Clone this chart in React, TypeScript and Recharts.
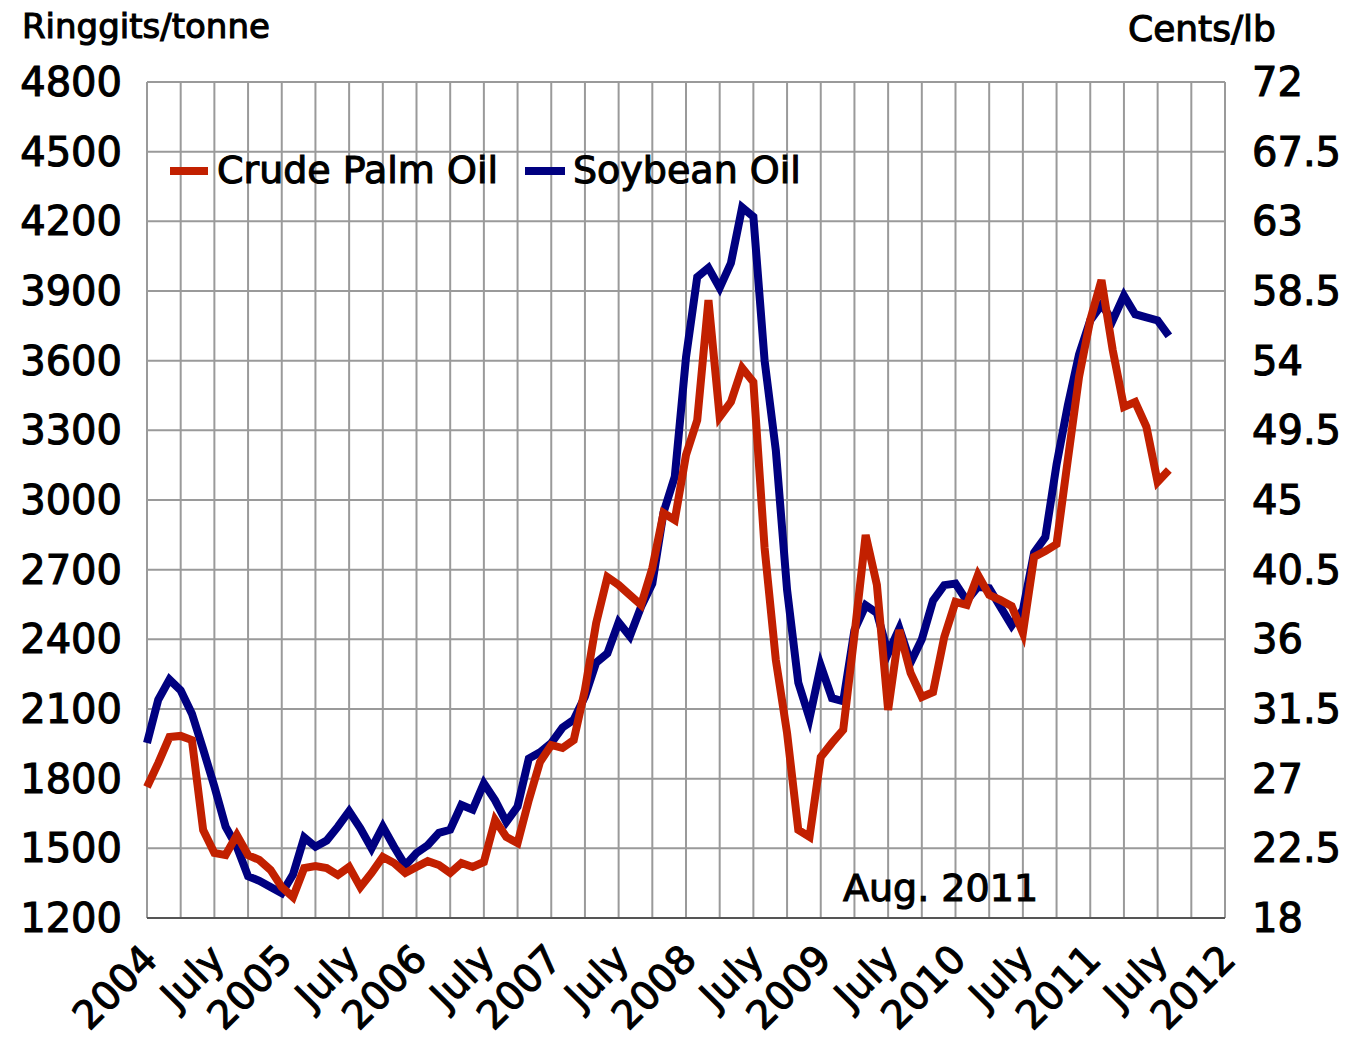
import { LineChart, Line, XAxis, YAxis, CartesianGrid } from "recharts";

// monthly averages, Jan 2004 .. Aug 2011
const palmOil = [
  1764, 1867, 1979, 1984, 1966, 1579, 1480, 1471, 1557, 1471, 1450, 1407,
  1333, 1290, 1415, 1424, 1415, 1385, 1420, 1333, 1394, 1463, 1437, 1394,
  1420, 1445, 1428, 1394, 1437, 1420, 1441, 1622, 1549, 1523, 1708, 1872,
  1945, 1932, 1966, 2182, 2470, 2668, 2634, 2591, 2548, 2707, 2944, 2914,
  3194, 3344, 3861, 3357, 3422, 3568, 3508, 2793, 2311, 1997, 1579, 1549,
  1893, 1954, 2010, 2419, 2849, 2634, 2096, 2440, 2255, 2152, 2173, 2410,
  2561, 2548, 2677, 2591, 2569, 2543, 2427, 2755, 2780, 2810, 3172, 3530,
  3775, 3947, 3646, 3401, 3422, 3315, 3078, 3129,
];

const soybeanOil = [
  29.3, 32.1, 33.4, 32.7, 31.2, 28.9, 26.5, 23.9, 22.6, 20.7, 20.4, 20.0,
  19.6, 20.8, 23.2, 22.6, 23.0, 23.9, 24.9, 23.8, 22.5, 23.9, 22.6, 21.4,
  22.2, 22.7, 23.5, 23.7, 25.3, 25.0, 26.7, 25.6, 24.2, 25.2, 28.3, 28.7,
  29.3, 30.3, 30.8, 32.3, 34.5, 35.1, 37.1, 36.2, 38.1, 39.6, 44.2, 46.5,
  54.2, 59.4, 60.0, 58.7, 60.3, 63.9, 63.3, 54.0, 48.2, 39.2, 33.2, 30.9,
  34.3, 32.2, 32.0, 36.6, 38.2, 37.7, 35.1, 36.7, 34.5, 36.0, 38.5, 39.5,
  39.6, 38.5, 39.4, 39.3, 38.1, 36.9, 37.9, 41.6, 42.6, 47.3, 51.1, 54.4,
  56.6, 57.6, 56.6, 58.2, 57.0, 56.8, 56.6, 55.6,
];

const xTickLabels = [
  "2004", "July", "2005", "July", "2006", "July", "2007", "July", "2008",
  "July", "2009", "July", "2010", "July", "2011", "July", "2012",
];

const leftTicks = [1200, 1500, 1800, 2100, 2400, 2700, 3000, 3300, 3600, 3900, 4200, 4500, 4800];
const rightTicks = [18, 22.5, 27, 31.5, 36, 40.5, 45, 49.5, 54, 58.5, 63, 67.5, 72];
const monthTicks = Array.from({ length: 33 }, (_, i) => i * 3);

const data = palmOil.map((v, i) => ({ month: i, palm: v, soy: soybeanOil[i] }));

const FONT = '"DejaVu Sans", sans-serif';
const RED = "#c22000";
const BLUE = "#000080";

// slightly heavier than book weight, like the original
const textStyle = {
  fontFamily: FONT,
  fill: "#000",
  stroke: "#000",
  strokeWidth: 1.1,
};

function MonthTick({ x, y, payload }: any) {
  const m = payload.value;
  if (m % 6 !== 0) return <g />;
  const tx = x + 3;
  const ty = y + 34;
  return (
    <text
      x={tx}
      y={ty}
      transform={`rotate(-45 ${tx} ${ty})`}
      textAnchor="end"
      dominantBaseline="central"
      fontSize={39}
      style={textStyle}
    >
      {xTickLabels[m / 6]}
    </text>
  );
}

function LeftTick({ x, y, payload }: any) {
  return (
    <text x={x} y={y} textAnchor="end" dominantBaseline="central" fontSize={40} style={textStyle}>
      {payload.value}
    </text>
  );
}

function RightTick({ x, y, payload }: any) {
  return (
    <text x={x} y={y} textAnchor="start" dominantBaseline="central" fontSize={40} style={textStyle}>
      {String(payload.value)}
    </text>
  );
}

export default function App() {
  return (
    <div style={{ position: "absolute", left: 0, top: 0, width: 1347, height: 1042, background: "#fff" }}>
      <LineChart
        width={1347}
        height={1042}
        data={data}
        margin={{ top: 82, right: 0, bottom: 0, left: 0 }}
      >
        <CartesianGrid yAxisId="left" stroke="#9a9a9a" strokeWidth={2} />
        <XAxis
          dataKey="month"
          type="number"
          domain={[0, 96]}
          ticks={monthTicks}
          interval={0}
          height={124}
          tickLine={false}
          tickSize={0}
          tickMargin={0}
          axisLine={{ stroke: "#555", strokeWidth: 2 }}
          tick={<MonthTick />}
        />
        <YAxis
          yAxisId="left"
          domain={[1200, 4800]}
          ticks={leftTicks}
          interval={0}
          width={147}
          tickLine={false}
          tickSize={0}
          tickMargin={25}
          axisLine={false}
          tick={<LeftTick />}
        />
        <YAxis
          yAxisId="right"
          orientation="right"
          domain={[18, 72]}
          ticks={rightTicks}
          interval={0}
          width={122}
          tickLine={false}
          tickSize={0}
          tickMargin={27}
          axisLine={false}
          tick={<RightTick />}
        />
        <Line
          yAxisId="right"
          dataKey="soy"
          stroke={BLUE}
          strokeWidth={8}
          dot={false}
          type="linear"
          isAnimationActive={false}
        />
        <Line
          yAxisId="left"
          dataKey="palm"
          stroke={RED}
          strokeWidth={8}
          dot={false}
          type="linear"
          isAnimationActive={false}
        />
      </LineChart>

      <svg
        width={1347}
        height={1042}
        style={{ position: "absolute", left: 0, top: 0, pointerEvents: "none" }}
      >
        <text x={22} y={38} fontSize={34} style={textStyle}>Ringgits/tonne</text>
        <text x={1128} y={41} fontSize={36} style={textStyle}>Cents/lb</text>

        <line x1={170} x2={208} y1={171} y2={171} stroke={RED} strokeWidth={8} />
        <text x={217} y={183} fontSize={38} style={textStyle}>Crude Palm Oil</text>
        <line x1={525} x2={565} y1={171} y2={171} stroke={BLUE} strokeWidth={8} />
        <text x={573} y={183} fontSize={38} style={textStyle}>Soybean Oil</text>

        <text x={843} y={901} fontSize={38} style={textStyle}>Aug. 2011</text>
      </svg>
    </div>
  );
}
